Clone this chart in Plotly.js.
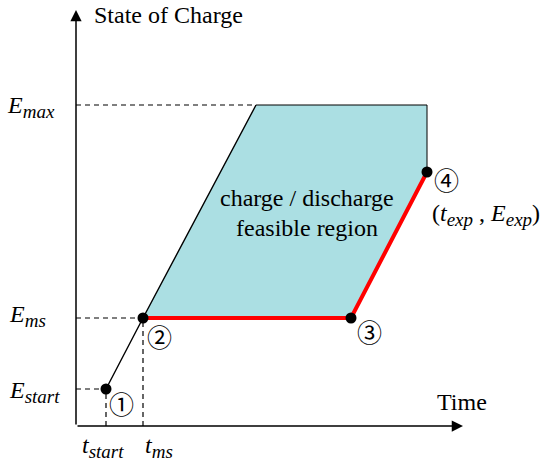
<!DOCTYPE html>
<html>
<head>
<meta charset="utf-8">
<script src="https://cdn.plot.ly/plotly-3.0.1.min.js"></script>
<style>html,body{margin:0;padding:0;background:#fff;}#chart{width:550px;height:467px;}</style>
</head>
<body>
<div id="chart"></div>
<script>
// Time values (chart units, origin at axes crossing)
const tStart = 30, tMs = 67, tTop = 180, t3 = 275, tExp = 351;
// State-of-charge values
const eStart = 37, eMs = 108, eExp = 254, eMax = 321;
// Axis extents
const xAxisEnd = 387, yAxisEnd = 416;

// Feasible region polygon
const regionX = [tMs, tTop, tExp, tExp, t3, tMs];
const regionY = [eMs, eMax, eMax, eExp, eMs, eMs];
// Charging slope line
const slopeX = [tStart, tMs, tTop];
const slopeY = [eStart, eMs, eMax];
// Red path
const redX = [tMs, t3, tExp];
const redY = [eMs, eMs, eExp];
// Key points
const ptX = [tStart, tMs, t3, tExp];
const ptY = [eStart, eMs, eMs, eExp];
const ptLabels = ['①', '②', '③', '④'];

const serif = 'Liberation Serif, Times New Roman, serif';
const circ = 'Noto Sans CJK JP, DejaVu Sans, sans-serif';

const dashStyle = {color: 'black', width: 1.2, dash: '5px,4px'};
const traces = [
  {x: regionX, y: regionY, fill: 'toself', fillcolor: '#abdfe3', mode: 'lines', line: {width: 0}, hoverinfo: 'skip'},
  {x: [tTop, tExp, tExp], y: [eMax, eMax, eExp], mode: 'lines', line: {color: 'black', width: 1}},
  {x: [0, tTop, null, 0, tMs, null, 0, tStart, null, tStart, tStart, null, tMs, tMs],
   y: [eMax, eMax, null, eMs, eMs, null, eStart, eStart, null, 0, eStart, null, 0, eMs],
   mode: 'lines', line: dashStyle},
  {x: slopeX, y: slopeY, mode: 'lines', line: {color: 'black', width: 1.4}},
  {x: redX, y: redY, mode: 'lines', line: {color: '#ff0000', width: 4}},
  {x: ptX, y: ptY, mode: 'markers', marker: {color: 'black', size: 11}}
];

const ann = [];
function A(o) { ann.push(Object.assign({xref: 'x', yref: 'y', showarrow: false}, o)); }
function M(base, sub) { return '<i>' + base + '</i><sub><i><span style="font-size:19px">' + sub + '</span></i></sub>'; }
// axes arrows
A({x: 0, y: yAxisEnd, ax: 0, ay: 0, axref: 'x', ayref: 'y', showarrow: true, arrowhead: 2, arrowsize: 1.5, arrowwidth: 1.5, arrowcolor: 'black', text: ''});
A({x: xAxisEnd, y: 0, ax: 0, ay: 0, axref: 'x', ayref: 'y', showarrow: true, arrowhead: 2, arrowsize: 1.5, arrowwidth: 1.5, arrowcolor: 'black', text: ''});
// titles
A({x: 16, y: 411, xanchor: 'left', yanchor: 'middle', text: 'State of Charge', font: {family: serif, size: 24, color: 'black'}});
A({x: 386, y: 24, xanchor: 'center', yanchor: 'middle', text: 'Time', font: {family: serif, size: 24, color: 'black'}});
// y labels
const mf = {family: serif, size: 24, color: 'black'};
A({x: -19, y: eMax - 2, xanchor: 'right', yanchor: 'middle', text: M('E', 'max'), font: mf});
A({x: -28, y: eMs + 2, xanchor: 'right', yanchor: 'middle', text: M('E', 'ms'), font: mf});
A({x: -14, y: eStart - 3, xanchor: 'right', yanchor: 'middle', text: M('E', 'start'), font: mf});
// x labels
A({x: tStart - 3, y: -21, xanchor: 'center', yanchor: 'middle', text: M('t', 'start'), font: mf});
A({x: tMs + 16, y: -21, xanchor: 'center', yanchor: 'middle', text: M('t', 'ms'), font: mf});
// circled numbers
const offX = [15, 16, 18, 19], offY = [-14, -18, -13, -7];
for (let i = 0; i < ptX.length; i++) {
  A({x: ptX[i] + offX[i], y: ptY[i] + offY[i], xanchor: 'center', yanchor: 'middle', text: ptLabels[i], font: {family: circ, size: 25, color: 'black'}});
}
A({x: 410, y: 211, xanchor: 'center', yanchor: 'middle', text: '(' + M('t', 'exp') + ' , ' + M('E', 'exp') + ')', font: {family: serif, size: 24, color: 'black'}});
// region text
A({x: 231, y: 228, xanchor: 'center', yanchor: 'middle', text: 'charge / discharge', font: {family: serif, size: 24, color: 'black'}});
A({x: 231, y: 198, xanchor: 'center', yanchor: 'middle', text: 'feasible region', font: {family: serif, size: 24, color: 'black'}});

const layout = {
  width: 550, height: 467,
  margin: {l: 0, r: 0, t: 0, b: 0},
  paper_bgcolor: 'white', plot_bgcolor: 'white',
  showlegend: false,
  xaxis: {range: [-76, 474], visible: false, fixedrange: true},
  yaxis: {range: [-41, 426], visible: false, fixedrange: true},
  annotations: ann
};
Plotly.newPlot('chart', traces, layout, {staticPlot: true, displayModeBar: false});
</script>
</body>
</html>
